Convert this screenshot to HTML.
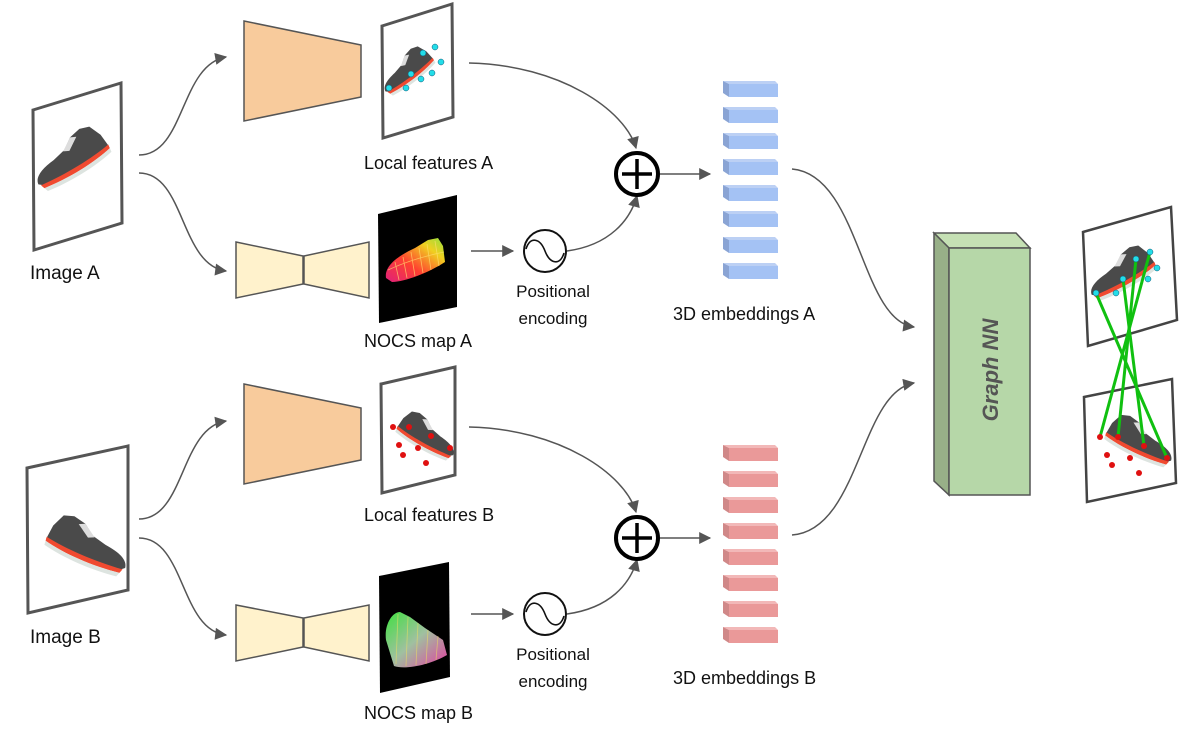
<!DOCTYPE html>
<html><head><meta charset="utf-8"><style>
html,body{margin:0;padding:0;background:#fff;}
svg{display:block;}
text{font-family:"Liberation Sans",sans-serif;fill:#111;}
</style></head><body>
<svg width="1200" height="742" viewBox="0 0 1200 742" xmlns="http://www.w3.org/2000/svg">
<defs>
<marker id="ah2" viewBox="0 0 10 10" refX="9" refY="5" markerWidth="14" markerHeight="12" markerUnits="userSpaceOnUse" orient="auto"><path d="M0,0 L10,5 L0,10 z" fill="#555"/></marker>
<linearGradient id="nocsA" x1="0" y1="1" x2="1" y2="0"><stop offset="0" stop-color="#e0207a"/><stop offset="0.4" stop-color="#ff4030"/><stop offset="0.75" stop-color="#f0d020"/><stop offset="1" stop-color="#90e040"/></linearGradient>
<linearGradient id="nocsB" x1="0" y1="0" x2="1" y2="1"><stop offset="0" stop-color="#40e040"/><stop offset="0.5" stop-color="#a0c0a0"/><stop offset="1" stop-color="#e040a0"/></linearGradient>
<g id="shoe">
<path d="M0,-4 C0,-12 10,-17 24,-20 L38,-25 L48,-34 L60,-38 L70,-36 L77,-24 L80,-10 C60,-4 30,0 6,0 Z" fill="#4a4a4a"/>
<path d="M36,-24 L48,-34 L54,-32 L42,-22 Z" fill="#ddd"/>
<path d="M2,-2 C30,-2 60,-6 80,-12 L80,-8 C60,-1 30,3 4,2 Z" fill="#f04a30"/>
<path d="M4,2 C30,3 60,-1 80,-8 L80,-4 C60,3 30,7 6,6 Z" fill="#dde4e0"/>
</g>
</defs>

<!-- ===== A branch ===== -->
<polygon points="33,110 121,83 122,223 34,250" fill="#fff" stroke="#555" stroke-width="3"/>
<use href="#shoe" transform="translate(40,188) rotate(-24) scale(1.0)"/>
<text x="30" y="279" font-size="19">Image A</text>

<path d="M139,155 C185,155 180,65 226,57" fill="none" stroke="#555" stroke-width="1.5" marker-end="url(#ah2)"/>
<path d="M139,173 C185,173 180,265 226,271" fill="none" stroke="#555" stroke-width="1.5" marker-end="url(#ah2)"/>

<polygon points="244,21 361,45 361,97 244,121" fill="#f8cb9c" stroke="#555" stroke-width="1.5"/>
<polygon points="236,242 303,256 303,284 236,298" fill="#fff2cc" stroke="#555" stroke-width="1.5"/>
<polygon points="304,256 369,242 369,298 304,284" fill="#fff2cc" stroke="#555" stroke-width="1.5"/>

<polygon points="382,26 452,4 453,117 383,138" fill="#fff" stroke="#555" stroke-width="3"/>
<use href="#shoe" transform="translate(387,94) rotate(-30) scale(0.72)"/>
<g fill="#22dde8" stroke="#157" stroke-width="0.5">
<circle cx="389" cy="88" r="3"/><circle cx="406" cy="88" r="3"/><circle cx="411" cy="74" r="3"/><circle cx="421" cy="79" r="3"/><circle cx="423" cy="53" r="3"/><circle cx="432" cy="73" r="3"/><circle cx="441" cy="62" r="3"/><circle cx="435" cy="47" r="3"/>
</g>
<text x="364" y="169" font-size="18">Local features A</text>

<polygon points="378,214 457,195 457,307 379,323" fill="#000"/>
<path d="M386,278 C384,265 400,255 415,248 L428,240 L438,238 L443,246 L445,262 C430,272 405,282 392,282 Z" fill="url(#nocsA)"/>
<g stroke="#ffe070" stroke-width="0.8" opacity="0.7"><line x1="395" y1="262" x2="399" y2="280"/><line x1="403" y1="257" x2="407" y2="278"/><line x1="411" y1="252" x2="415" y2="276"/><line x1="419" y1="248" x2="423" y2="273"/><line x1="427" y1="244" x2="431" y2="270"/><line x1="435" y1="241" x2="439" y2="266"/><path d="M388,270 C405,262 425,256 444,252" fill="none"/></g>
<text x="364" y="347" font-size="18">NOCS map A</text>

<line x1="471" y1="251" x2="513" y2="251" stroke="#555" stroke-width="1.5" marker-end="url(#ah2)"/>
<circle cx="545" cy="251" r="21" fill="#fff" stroke="#111" stroke-width="2"/>
<path d="M526,249 C530,236 540,238 545,251 C550,264 560,266 564,253" fill="none" stroke="#111" stroke-width="1.6"/>
<text x="553" y="297" font-size="17" text-anchor="middle">Positional</text>
<text x="553" y="324" font-size="17" text-anchor="middle">encoding</text>

<path d="M469,63 C560,65 625,110 636,148" fill="none" stroke="#555" stroke-width="1.5" marker-end="url(#ah2)"/>
<path d="M567,251 C610,245 630,220 637,196" fill="none" stroke="#555" stroke-width="1.5" marker-end="url(#ah2)"/>
<circle cx="637" cy="174" r="21" fill="#fff" stroke="#000" stroke-width="4"/>
<line x1="622" y1="174" x2="652" y2="174" stroke="#000" stroke-width="3.5"/>
<line x1="637" y1="159" x2="637" y2="189" stroke="#000" stroke-width="3.5"/>
<line x1="660" y1="174" x2="710" y2="174" stroke="#555" stroke-width="1.5" marker-end="url(#ah2)"/>

<g>
<g transform="translate(0,0)"><polygon points="723,81 775,81 778,84 729,84" fill="#bcd0f4"/><polygon points="723,81 729,84 729,97 723,93" fill="#8aa4d4"/><rect x="729" y="84" width="49" height="13" fill="#a4c2f4"/></g>
<g transform="translate(0,26)"><polygon points="723,81 775,81 778,84 729,84" fill="#bcd0f4"/><polygon points="723,81 729,84 729,97 723,93" fill="#8aa4d4"/><rect x="729" y="84" width="49" height="13" fill="#a4c2f4"/></g>
<g transform="translate(0,52)"><polygon points="723,81 775,81 778,84 729,84" fill="#bcd0f4"/><polygon points="723,81 729,84 729,97 723,93" fill="#8aa4d4"/><rect x="729" y="84" width="49" height="13" fill="#a4c2f4"/></g>
<g transform="translate(0,78)"><polygon points="723,81 775,81 778,84 729,84" fill="#bcd0f4"/><polygon points="723,81 729,84 729,97 723,93" fill="#8aa4d4"/><rect x="729" y="84" width="49" height="13" fill="#a4c2f4"/></g>
<g transform="translate(0,104)"><polygon points="723,81 775,81 778,84 729,84" fill="#bcd0f4"/><polygon points="723,81 729,84 729,97 723,93" fill="#8aa4d4"/><rect x="729" y="84" width="49" height="13" fill="#a4c2f4"/></g>
<g transform="translate(0,130)"><polygon points="723,81 775,81 778,84 729,84" fill="#bcd0f4"/><polygon points="723,81 729,84 729,97 723,93" fill="#8aa4d4"/><rect x="729" y="84" width="49" height="13" fill="#a4c2f4"/></g>
<g transform="translate(0,156)"><polygon points="723,81 775,81 778,84 729,84" fill="#bcd0f4"/><polygon points="723,81 729,84 729,97 723,93" fill="#8aa4d4"/><rect x="729" y="84" width="49" height="13" fill="#a4c2f4"/></g>
<g transform="translate(0,182)"><polygon points="723,81 775,81 778,84 729,84" fill="#bcd0f4"/><polygon points="723,81 729,84 729,97 723,93" fill="#8aa4d4"/><rect x="729" y="84" width="49" height="13" fill="#a4c2f4"/></g>
</g>
<text x="673" y="320" font-size="18">3D embeddings A</text>
<path d="M792,169 C860,175 860,320 914,327" fill="none" stroke="#555" stroke-width="1.5" marker-end="url(#ah2)"/>

<!-- ===== B branch ===== -->
<polygon points="27,468 128,446 128,590 28,613" fill="#fff" stroke="#555" stroke-width="3"/>
<use href="#shoe" transform="translate(124,572) scale(-1.05,1.05) rotate(-16)"/>
<text x="30" y="643" font-size="19">Image B</text>

<path d="M139,519 C185,519 180,428 226,421" fill="none" stroke="#555" stroke-width="1.5" marker-end="url(#ah2)"/>
<path d="M139,538 C185,538 180,630 226,635" fill="none" stroke="#555" stroke-width="1.5" marker-end="url(#ah2)"/>

<polygon points="244,384 361,408 361,460 244,484" fill="#f8cb9c" stroke="#555" stroke-width="1.5"/>
<polygon points="236,605 303,618 303,647 236,661" fill="#fff2cc" stroke="#555" stroke-width="1.5"/>
<polygon points="304,618 369,605 369,661 304,647" fill="#fff2cc" stroke="#555" stroke-width="1.5"/>

<polygon points="381,384 455,367 455,475 382,493" fill="#fff" stroke="#555" stroke-width="3"/>
<use href="#shoe" transform="translate(452,458) scale(-0.78,0.78) rotate(-22)"/>
<g fill="#e01010">
<circle cx="393" cy="427" r="3"/><circle cx="409" cy="427" r="3"/><circle cx="431" cy="436" r="3"/><circle cx="450" cy="448" r="3"/><circle cx="399" cy="445" r="3"/><circle cx="403" cy="455" r="3"/><circle cx="418" cy="448" r="3"/><circle cx="426" cy="463" r="3"/>
</g>
<text x="364" y="521" font-size="18">Local features B</text>

<polygon points="379,576 449,562 450,677 380,693" fill="#000"/>
<path d="M386,640 C384,625 392,612 400,612 L410,617 L425,628 L443,640 L447,655 C430,665 405,670 394,666 Z" fill="url(#nocsB)"/>
<g stroke="#f0e060" stroke-width="0.8" opacity="0.6"><line x1="398" y1="614" x2="396" y2="664"/><line x1="408" y1="617" x2="406" y2="666"/><line x1="418" y1="623" x2="416" y2="665"/><line x1="428" y1="630" x2="426" y2="664"/><line x1="438" y1="636" x2="436" y2="660"/></g>
<text x="364" y="719" font-size="18">NOCS map B</text>

<line x1="471" y1="614" x2="513" y2="614" stroke="#555" stroke-width="1.5" marker-end="url(#ah2)"/>
<circle cx="545" cy="614" r="21" fill="#fff" stroke="#111" stroke-width="2"/>
<path d="M526,612 C530,599 540,601 545,614 C550,627 560,629 564,616" fill="none" stroke="#111" stroke-width="1.6"/>
<text x="553" y="660" font-size="17" text-anchor="middle">Positional</text>
<text x="553" y="687" font-size="17" text-anchor="middle">encoding</text>

<path d="M469,427 C560,429 625,474 636,512" fill="none" stroke="#555" stroke-width="1.5" marker-end="url(#ah2)"/>
<path d="M567,614 C610,608 630,584 637,560" fill="none" stroke="#555" stroke-width="1.5" marker-end="url(#ah2)"/>
<circle cx="637" cy="538" r="21" fill="#fff" stroke="#000" stroke-width="4"/>
<line x1="622" y1="538" x2="652" y2="538" stroke="#000" stroke-width="3.5"/>
<line x1="637" y1="523" x2="637" y2="553" stroke="#000" stroke-width="3.5"/>
<line x1="660" y1="538" x2="710" y2="538" stroke="#555" stroke-width="1.5" marker-end="url(#ah2)"/>

<g transform="translate(0,364)">
<g transform="translate(0,0)"><polygon points="723,81 775,81 778,84 729,84" fill="#f2b8b8"/><polygon points="723,81 729,84 729,97 723,93" fill="#d08888"/><rect x="729" y="84" width="49" height="13" fill="#ea9999"/></g>
<g transform="translate(0,26)"><polygon points="723,81 775,81 778,84 729,84" fill="#f2b8b8"/><polygon points="723,81 729,84 729,97 723,93" fill="#d08888"/><rect x="729" y="84" width="49" height="13" fill="#ea9999"/></g>
<g transform="translate(0,52)"><polygon points="723,81 775,81 778,84 729,84" fill="#f2b8b8"/><polygon points="723,81 729,84 729,97 723,93" fill="#d08888"/><rect x="729" y="84" width="49" height="13" fill="#ea9999"/></g>
<g transform="translate(0,78)"><polygon points="723,81 775,81 778,84 729,84" fill="#f2b8b8"/><polygon points="723,81 729,84 729,97 723,93" fill="#d08888"/><rect x="729" y="84" width="49" height="13" fill="#ea9999"/></g>
<g transform="translate(0,104)"><polygon points="723,81 775,81 778,84 729,84" fill="#f2b8b8"/><polygon points="723,81 729,84 729,97 723,93" fill="#d08888"/><rect x="729" y="84" width="49" height="13" fill="#ea9999"/></g>
<g transform="translate(0,130)"><polygon points="723,81 775,81 778,84 729,84" fill="#f2b8b8"/><polygon points="723,81 729,84 729,97 723,93" fill="#d08888"/><rect x="729" y="84" width="49" height="13" fill="#ea9999"/></g>
<g transform="translate(0,156)"><polygon points="723,81 775,81 778,84 729,84" fill="#f2b8b8"/><polygon points="723,81 729,84 729,97 723,93" fill="#d08888"/><rect x="729" y="84" width="49" height="13" fill="#ea9999"/></g>
<g transform="translate(0,182)"><polygon points="723,81 775,81 778,84 729,84" fill="#f2b8b8"/><polygon points="723,81 729,84 729,97 723,93" fill="#d08888"/><rect x="729" y="84" width="49" height="13" fill="#ea9999"/></g>
</g>
<text x="673" y="684" font-size="18">3D embeddings B</text>
<path d="M792,535 C860,530 860,392 914,383" fill="none" stroke="#555" stroke-width="1.5" marker-end="url(#ah2)"/>

<!-- ===== Graph NN ===== -->
<polygon points="934,233 1016,233 1030,248 949,248" fill="#c5e0b4" stroke="#555" stroke-width="1.5"/>
<polygon points="934,233 949,248 949,495 934,481" fill="#98b088" stroke="#555" stroke-width="1.5"/>
<rect x="949" y="248" width="81" height="247" fill="#b6d7a8" stroke="#555" stroke-width="1.5"/>
<text x="0" y="0" font-size="22" font-weight="bold" font-style="italic" text-anchor="middle" style="fill:#555" transform="translate(998,370) rotate(-90)">Graph NN</text>

<!-- ===== Result ===== -->
<polygon points="1083,232 1171,207 1177,320 1088,346" fill="#fff" stroke="#444" stroke-width="2.5"/>
<use href="#shoe" transform="translate(1093,298) rotate(-22) scale(0.88)"/>
<polygon points="1084,397 1172,379 1176,483 1087,502" fill="#fff" stroke="#444" stroke-width="2.5"/>
<use href="#shoe" transform="translate(1170,464) scale(-0.88,0.88) rotate(-18)"/>
<g stroke="#10c010" stroke-width="3">
<line x1="1096" y1="293" x2="1167" y2="458"/><line x1="1123" y1="279" x2="1144" y2="446"/><line x1="1136" y1="259" x2="1118" y2="437"/><line x1="1150" y1="252" x2="1100" y2="437"/>
</g>
<g fill="#22dde8" stroke="#157" stroke-width="0.5">
<circle cx="1096" cy="293" r="3"/><circle cx="1116" cy="293" r="3"/><circle cx="1123" cy="279" r="3"/><circle cx="1136" cy="259" r="3"/><circle cx="1150" cy="252" r="3"/><circle cx="1148" cy="279" r="3"/><circle cx="1157" cy="268" r="3"/>
</g>
<g fill="#e01010">
<circle cx="1100" cy="437" r="3"/><circle cx="1118" cy="437" r="3"/><circle cx="1144" cy="446" r="3"/><circle cx="1167" cy="458" r="3"/><circle cx="1107" cy="455" r="3"/><circle cx="1112" cy="465" r="3"/><circle cx="1130" cy="458" r="3"/><circle cx="1139" cy="473" r="3"/>
</g>
</svg>
</body></html>
